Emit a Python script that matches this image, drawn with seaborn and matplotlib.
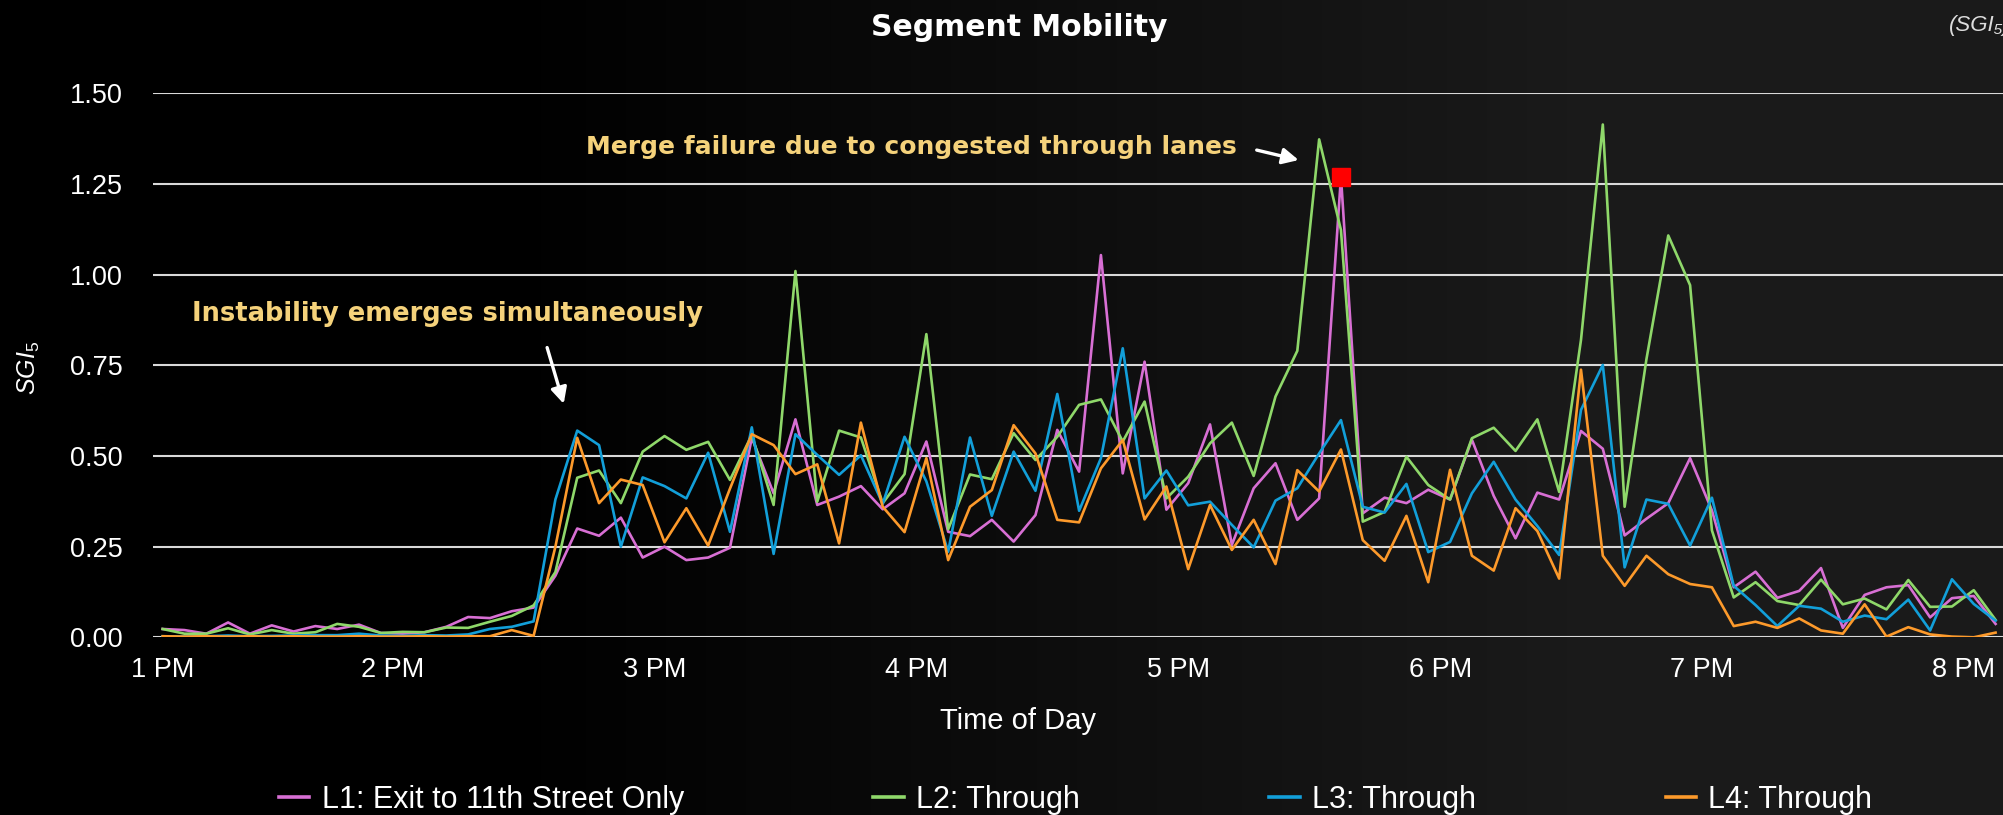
import numpy as np
import pandas as pd
import matplotlib
matplotlib.use("Agg")
import matplotlib.pyplot as plt
import seaborn as sns
from matplotlib.lines import Line2D

# 5-minute samples from 1 PM to 8 PM (minutes after 1 PM)
minutes = np.arange(0, 421, 5)

l1_exit = [0.023, 0.020, 0.010, 0.041, 0.010, 0.033, 0.016, 0.031, 0.023, 0.035,
           0.012, 0.010, 0.014, 0.029, 0.056, 0.053, 0.072, 0.082, 0.17, 0.30,
           0.28, 0.33, 0.22, 0.25, 0.213, 0.22, 0.247, 0.55, 0.397, 0.601,
           0.365, 0.388, 0.417, 0.353, 0.397, 0.54, 0.291, 0.279, 0.324, 0.264,
           0.337, 0.572, 0.457, 1.054, 0.452, 0.76, 0.352, 0.425, 0.587, 0.255,
           0.411, 0.48, 0.324, 0.383, 1.27, 0.342, 0.385, 0.37, 0.407, 0.38,
           0.545, 0.39, 0.273, 0.399, 0.38, 0.569, 0.52, 0.281, 0.327, 0.37,
           0.494, 0.35, 0.138, 0.181, 0.109, 0.128, 0.191, 0.026, 0.117, 0.138,
           0.144, 0.055, 0.108, 0.114, 0.037]
l2_through = [0.023, 0.010, 0.010, 0.025, 0.008, 0.020, 0.010, 0.014, 0.037, 0.029,
              0.012, 0.015, 0.014, 0.027, 0.026, 0.043, 0.059, 0.088, 0.18, 0.44,
              0.46, 0.37, 0.512, 0.555, 0.517, 0.539, 0.434, 0.558, 0.365, 1.01,
              0.374, 0.57, 0.551, 0.37, 0.45, 0.836, 0.298, 0.449, 0.436, 0.563,
              0.489, 0.553, 0.641, 0.656, 0.54, 0.65, 0.383, 0.443, 0.535, 0.592,
              0.445, 0.664, 0.79, 1.373, 1.123, 0.319, 0.346, 0.498, 0.42, 0.38,
              0.549, 0.578, 0.514, 0.601, 0.401, 0.82, 1.414, 0.36, 0.767, 1.108,
              0.971, 0.295, 0.11, 0.152, 0.10, 0.089, 0.159, 0.091, 0.107, 0.077,
              0.158, 0.084, 0.085, 0.13, 0.048]
l3_through = [0.003, 0.002, 0.003, 0.005, 0.003, 0.004, 0.005, 0.006, 0.006, 0.010,
              0.005, 0.004, 0.006, 0.005, 0.008, 0.023, 0.029, 0.044, 0.38, 0.57,
              0.53, 0.25, 0.441, 0.417, 0.383, 0.509, 0.291, 0.579, 0.23, 0.56,
              0.503, 0.448, 0.502, 0.368, 0.553, 0.43, 0.236, 0.551, 0.335, 0.512,
              0.404, 0.671, 0.349, 0.494, 0.797, 0.383, 0.46, 0.364, 0.374, 0.31,
              0.248, 0.377, 0.411, 0.507, 0.599, 0.36, 0.344, 0.423, 0.235, 0.263,
              0.397, 0.484, 0.38, 0.307, 0.227, 0.627, 0.751, 0.193, 0.38, 0.368,
              0.253, 0.385, 0.142, 0.089, 0.031, 0.087, 0.079, 0.043, 0.06, 0.05,
              0.104, 0.019, 0.16, 0.092, 0.046]
l4_through = [0.003, 0.002, 0.003, 0.002, 0.003, 0.002, 0.003, 0.002, 0.002, 0.003,
              0.002, 0.002, 0.003, 0.002, 0.003, 0.003, 0.020, 0.004, 0.25, 0.55,
              0.37, 0.435, 0.42, 0.262, 0.356, 0.253, 0.41, 0.56, 0.53, 0.45,
              0.477, 0.259, 0.592, 0.36, 0.29, 0.494, 0.213, 0.36, 0.406, 0.585,
              0.507, 0.324, 0.317, 0.466, 0.544, 0.325, 0.416, 0.188, 0.365, 0.241,
              0.324, 0.202, 0.461, 0.402, 0.518, 0.268, 0.211, 0.335, 0.152, 0.462,
              0.225, 0.184, 0.356, 0.293, 0.162, 0.738, 0.225, 0.142, 0.225, 0.174,
              0.147, 0.138, 0.031, 0.043, 0.026, 0.052, 0.019, 0.010, 0.091, 0.002,
              0.028, 0.008, 0.002, 0.0, 0.013]

lanes = ["L1: Exit to 11th Street Only", "L2: Through", "L3: Through", "L4: Through"]
colors = ["#d86fd4", "#8fd86a", "#129fd9", "#fd9a2b"]
hour_ticks = [0, 60, 120, 180, 240, 300, 360, 420]
hour_labels = ["1 PM", "2 PM", "3 PM", "4 PM", "5 PM", "6 PM", "7 PM", "8 PM"]

df = pd.DataFrame({
    "minute": np.tile(minutes, 4),
    "sgi": l1_exit + l2_through + l3_through + l4_through,
    "lane": np.repeat(lanes, len(minutes)),
})

plt.rcParams["font.family"] = ["Liberation Sans", "DejaVu Sans"]
plt.rcParams["mathtext.fontset"] = "custom"
plt.rcParams["mathtext.it"] = "Liberation Sans:italic"
plt.rcParams["mathtext.rm"] = "Liberation Sans"

fig = plt.figure(figsize=(20.03, 8.15), dpi=100, facecolor="black")

# dark background, black on the left fading to dark grey on the right
bg = fig.add_axes([0, 0, 1, 1], zorder=-5)
gx, gy = np.meshgrid(np.linspace(0, 1, 400), np.linspace(0, 1, 160))
shade = np.clip((gx - 0.25) / 0.55, 0, 1) * 0.105
bg.imshow(np.dstack([shade, shade, shade]), aspect="auto", extent=[0, 1, 0, 1])
bg.axis("off")

ax = fig.add_axes([0.0764, 0.2180, 0.9236, 0.6675])
ax.set_facecolor("none")

sns.lineplot(data=df, x="minute", y="sgi", hue="lane", palette=colors,
             linewidth=1.9, legend=False, ax=ax, zorder=3)

# red square on the L1 peak
peak = int(np.argmax(l1_exit))
ax.plot(minutes[peak], l1_exit[peak], marker="s", color="red", markersize=13.5,
        linestyle="none", zorder=5)

ax.set_xlim(-2.2, 421.7)
ax.set_ylim(0, 1.5)
ax.set_yticks([0, 0.25, 0.5, 0.75, 1.0, 1.25, 1.5])
ax.set_yticklabels(["0.00", "0.25", "0.50", "0.75", "1.00", "1.25", "1.50"])
ax.set_xticks(hour_ticks)
ax.set_xticklabels(hour_labels)
for i, lab in enumerate(ax.get_xticklabels()):
    lab.set_ha("center" if i == 0 else "right")

ax.tick_params(axis="both", length=0, labelsize=19.5, colors="white")
ax.tick_params(axis="y", pad=22)
ax.tick_params(axis="x", pad=14)
ax.yaxis.grid(True, color="#d9d9d9", linewidth=1.5, zorder=1)
ax.xaxis.grid(False)
for s in ax.spines.values():
    s.set_visible(False)

ax.set_xlabel("Time of Day", fontsize=21, color="white")
ax.xaxis.set_label_coords(0.4676, -0.153)
ax.xaxis.label.set_va("center")
ax.set_ylabel(r"$SGI_{5}$", fontsize=18, color="white")
ax.yaxis.set_label_coords(-0.067, 0.495)
ax.yaxis.label.set_va("center")

bold_font = ["DejaVu Sans"]
fig.text(0.5087, 1 - 28 / 815, "Segment Mobility", ha="center", va="center",
         fontsize=21.5, fontweight="bold", color="white", family=bold_font)
fig.text(1949 / 2003, 1 - 25 / 815, "(SGI\u2085)", ha="left", va="center",
         fontsize=16, style="italic", color="#dddddd")

note_color = "#f5d27b"
ax.text(246.2, 1.3325, "Merge failure due to congested through lanes", ha="right",
        va="baseline", fontsize=18, fontweight="bold", color=note_color,
        family=bold_font, zorder=6)
ax.text(6.7, 0.873, "Instability emerges simultaneously", ha="left",
        va="baseline", fontsize=18.5, fontweight="bold", color=note_color,
        family=bold_font, zorder=6)
arrow = dict(arrowstyle="-|>", color="white", lw=2.4, mutation_scale=24,
             shrinkA=0, shrinkB=0)
ax.annotate("", xy=(260.3, 1.316), xytext=(250.7, 1.3435), arrowprops=arrow, zorder=6)
ax.annotate("", xy=(91.9, 0.644), xytext=(88.1, 0.799), arrowprops=arrow, zorder=6)

handles = [Line2D([], [], color=c, linewidth=2.6) for c in colors]
fig.legend(handles, lanes, loc="center", bbox_to_anchor=(0.537, 0.019), ncol=4,
           frameon=False, fontsize=22, labelcolor="white", handlelength=1.0,
           handletextpad=0.4, columnspacing=6.2)

fig.savefig("out.png", dpi=100, facecolor=fig.get_facecolor())
